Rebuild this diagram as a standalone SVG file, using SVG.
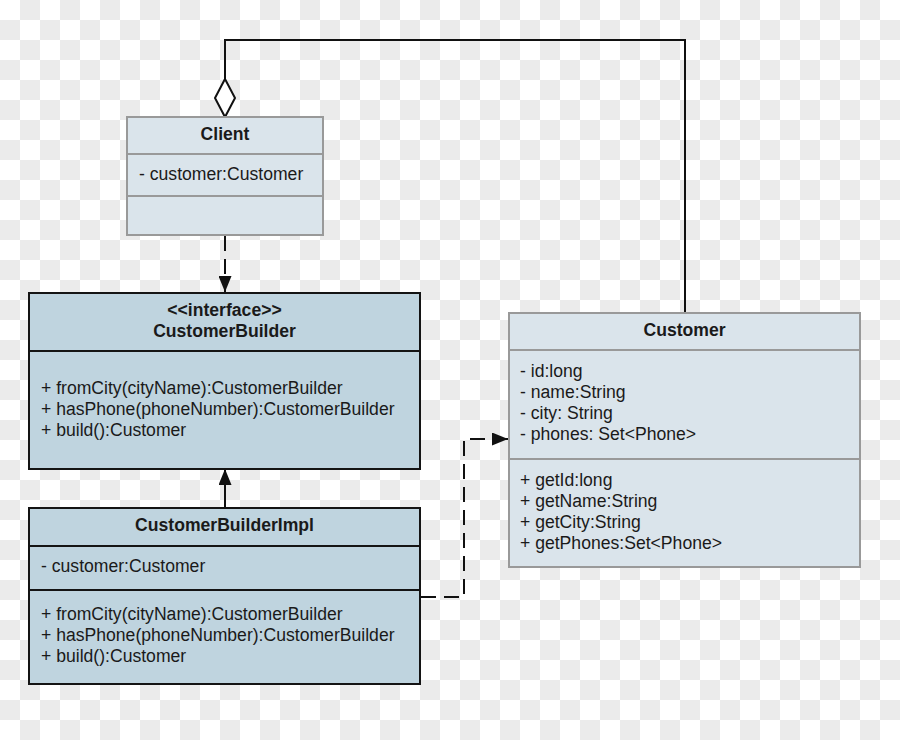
<svg xmlns="http://www.w3.org/2000/svg" width="900" height="740" viewBox="0 0 900 740">
<defs>
<pattern id="checker" x="0" y="0" width="40" height="40" patternUnits="userSpaceOnUse">
<rect width="40" height="40" fill="#ffffff"/>
<rect x="20" y="0" width="20" height="20" fill="#ebebeb"/>
<rect x="0" y="20" width="20" height="20" fill="#ebebeb"/>
</pattern>
<marker id="arrow" markerWidth="16" markerHeight="13" refX="16" refY="6.5" orient="auto" markerUnits="userSpaceOnUse">
<path d="M0,0 L16,6.5 L0,13 Z" fill="#111"/>
</marker>
</defs>
<style>
.t{font-family:"Liberation Sans",Arial,sans-serif;font-size:17.6px;fill:#1a1a1a}
.b{font-weight:bold}
.m{text-anchor:middle}
.light{fill:#dae4eb;stroke:#999;stroke-width:2}
.dark{fill:#bfd4df;stroke:#141414;stroke-width:2}
.sepl{stroke:#999;stroke-width:2}
.sepd{stroke:#141414;stroke-width:2}
.conn{fill:none;stroke:#111;stroke-width:2}
.dash{stroke-dasharray:15 8}
</style>
<rect width="900" height="740" fill="url(#checker)"/>

<g id="connectors">
<path class="conn" d="M225,79 L225,40 L685,40 L685,313"/>
<path d="M225,79 L235,98 L225,117 L215,98 Z" fill="#ffffff" stroke="#111" stroke-width="2"/>
<path class="conn dash" d="M225,236 L225,292" marker-end="url(#arrow)"/>
<path class="conn" d="M225,508 L225,469" marker-end="url(#arrow)"/>
<path class="conn dash" d="M421,597 L464,597 L464,439 L508,439" marker-end="url(#arrow)"/>
</g>

<g id="client">
<rect class="light" x="127" y="117" width="196" height="118"/>
<line class="sepl" x1="127" y1="154" x2="323" y2="154"/>
<line class="sepl" x1="127" y1="196" x2="323" y2="196"/>
<text class="t b m" x="225" y="140">Client</text>
<text class="t" x="139" y="180">- customer:Customer</text>
</g>

<g id="customerbuilder">
<rect class="dark" x="29" y="293" width="391" height="176"/>
<line class="sepd" x1="29" y1="351" x2="420" y2="351"/>
<text class="t b m" x="224.5" y="316">&lt;&lt;interface&gt;&gt;</text>
<text class="t b m" x="224.5" y="337">CustomerBuilder</text>
<text class="t" x="41" y="394">+ fromCity(cityName):CustomerBuilder</text>
<text class="t" x="41" y="415">+ hasPhone(phoneNumber):CustomerBuilder</text>
<text class="t" x="41" y="436">+ build():Customer</text>
</g>

<g id="customerbuilderimpl">
<rect class="dark" x="29" y="508" width="391" height="176"/>
<line class="sepd" x1="29" y1="546" x2="420" y2="546"/>
<line class="sepd" x1="29" y1="590" x2="420" y2="590"/>
<text class="t b m" x="224.5" y="531">CustomerBuilderImpl</text>
<text class="t" x="41" y="572">- customer:Customer</text>
<text class="t" x="41" y="620">+ fromCity(cityName):CustomerBuilder</text>
<text class="t" x="41" y="641">+ hasPhone(phoneNumber):CustomerBuilder</text>
<text class="t" x="41" y="662">+ build():Customer</text>
</g>

<g id="customer">
<rect class="light" x="509" y="313" width="351" height="254"/>
<line class="sepl" x1="509" y1="350" x2="860" y2="350"/>
<line class="sepl" x1="509" y1="459" x2="860" y2="459"/>
<text class="t b m" x="684.5" y="336">Customer</text>
<text class="t" x="520" y="377">- id:long</text>
<text class="t" x="520" y="398">- name:String</text>
<text class="t" x="520" y="419">- city: String</text>
<text class="t" x="520" y="440">- phones: Set&lt;Phone&gt;</text>
<text class="t" x="520" y="486">+ getId:long</text>
<text class="t" x="520" y="507">+ getName:String</text>
<text class="t" x="520" y="528">+ getCity:String</text>
<text class="t" x="520" y="549">+ getPhones:Set&lt;Phone&gt;</text>
</g>
</svg>
